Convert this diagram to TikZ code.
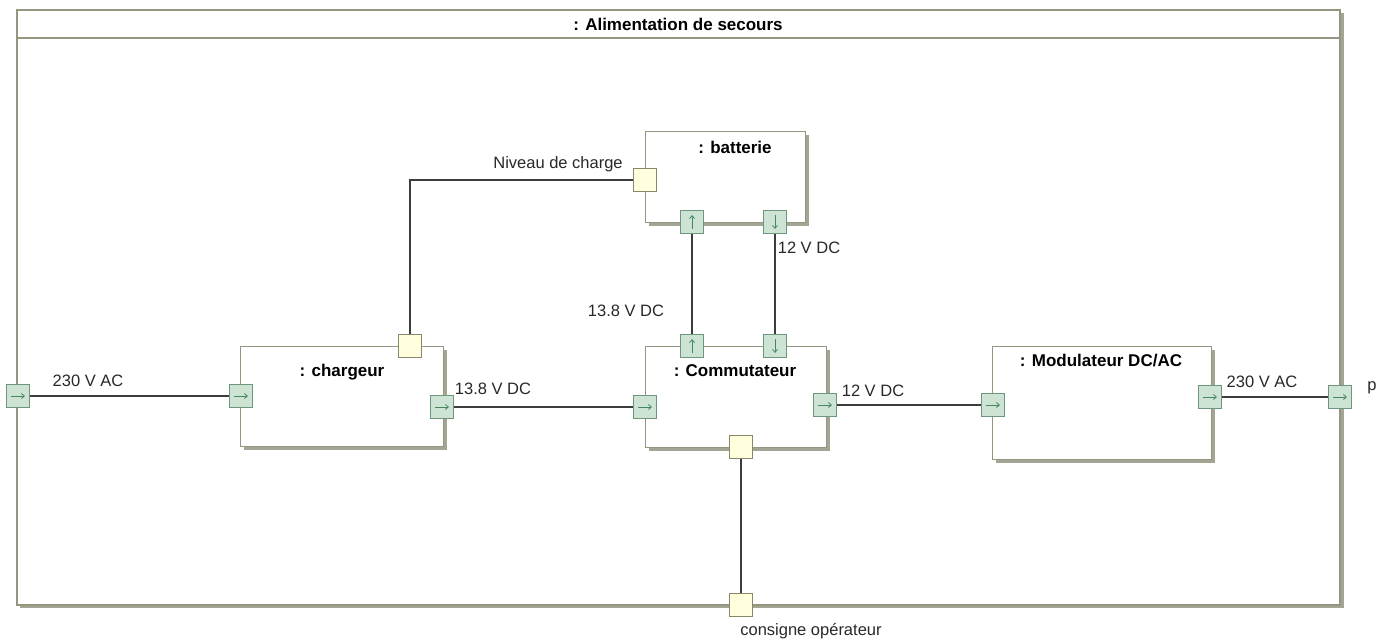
\documentclass[tikz,border=0pt]{standalone}
\usepackage{fontspec}
\setmainfont{Liberation Sans}
\usetikzlibrary{shadows,arrows.meta}
\definecolor{frameC}{RGB}{150,150,128}
\definecolor{shadowC}{RGB}{165,165,150}
\definecolor{portB}{RGB}{110,150,125}
\definecolor{portF}{RGB}{205,228,212}
\definecolor{arrC}{RGB}{70,135,95}
\definecolor{yelF}{RGB}{255,255,222}
\definecolor{yelB}{RGB}{135,135,105}
\definecolor{wireC}{RGB}{60,60,60}
\definecolor{textC}{RGB}{40,40,40}
\begin{document}
\begin{tikzpicture}[x=1pt,y=-1pt,
  box/.style={draw=frameC, fill=white, line width=1.1pt, anchor=north west, inner sep=0,
    drop shadow={shadow xshift=3pt, shadow yshift=-3pt, fill=shadowC, opacity=1}},
  parr/.style={draw=arrC, line width=0.8pt, -{Straight Barb[length=3pt,width=5pt]}},
  portbase/.style={draw=portB, fill=portF, minimum size=23pt, inner sep=0, line width=0.8pt},
  portR/.style={portbase, path picture={\draw[parr] ([xshift=-7pt]path picture bounding box.center) -- ([xshift=7pt]path picture bounding box.center);}},
  portU/.style={portbase, path picture={\draw[parr] ([yshift=-7pt]path picture bounding box.center) -- ([yshift=7pt]path picture bounding box.center);}},
  portDn/.style={portbase, path picture={\draw[parr] ([yshift=7pt]path picture bounding box.center) -- ([yshift=-7pt]path picture bounding box.center);}},
  yport/.style={draw=yelB, fill=yelF, minimum size=23pt, inner sep=0, line width=0.8pt},
  wire/.style={draw=wireC, line width=1.2pt},
  lbl/.style={font=\fontsize{16.5}{19}\selectfont, text=textC, inner sep=0},
  ttl/.style={font=\bfseries\fontsize{17}{20}\selectfont, text=black, inner sep=0}]
\useasboundingbox (0,0) rectangle (1385,643);
% outer frame
\fill[shadowC] (20,13) rectangle (1344,608);
\draw[draw=frameC, fill=white, line width=1.1pt] (17,10) rectangle (1340,605);
\draw[draw=frameC, line width=1.1pt] (17,38) -- (1340,38);
\node[ttl] (title) at (678,24) {: Alimentation de secours};
% boxes
\node[box, minimum width=203pt, minimum height=100pt] (charg) at (240,346) {};
\node[box, minimum width=160pt, minimum height=91pt] (batt) at (645,131) {};
\node[box, minimum width=181pt, minimum height=101pt] (comm) at (645,346) {};
\node[box, minimum width=219pt, minimum height=113pt] (modu) at (992,346) {};
\node[ttl] (tcharg) at (342,372) {: chargeur};
\node[ttl] (tbatt) at (735,147) {: batterie};
\node[ttl] (tcomm) at (735,371) {: Commutateur};
\node[ttl] (tmodu) at (1101,361) {: Modulateur DC/AC};
% ports
\node[portR] (pin) at (18,396) {};
\node[portR] (pout) at (1340,397) {};
\node[yport] (pcons) at (741,605) {};
\node[portR] (chin) at (241,396) {};
\node[portR] (chout) at (442,407) {};
\node[yport] (chniv) at (410,346) {};
\node[yport] (bniv) at (645,180) {};
\node[portU] (bup) at (692,222) {};
\node[portDn] (bdn) at (775,222) {};
\node[portU] (cup) at (692,346) {};
\node[portDn] (cdn) at (775,346) {};
\node[portR] (cin) at (645,407) {};
\node[portR] (cout) at (825,405) {};
\node[yport] (ccons) at (741,447) {};
\node[portR] (min) at (993,405) {};
\node[portR] (mout) at (1210,397) {};
% wires
\draw[wire] (pin.east) -- (chin.west);
\draw[wire] (chout.east) -- (cin.west);
\draw[wire] (cout.east) -- (min.west);
\draw[wire] (mout.east) -- (pout.west);
\draw[wire] (chniv.north) |- (bniv.west);
\draw[wire] (bup.south) -- (cup.north);
\draw[wire] (bdn.south) -- (cdn.north);
\draw[wire] (ccons.south) -- (pcons.north);
% labels
\node[lbl] (l1) at (88,381) {230 V AC};
\node[lbl] (l2) at (493,389) {13.8 V DC};
\node[lbl] (l3) at (873,391) {12 V DC};
\node[lbl] (l4) at (1262,382) {230 V AC};
\node[lbl] (l5) at (1372,388) {p};
\node[lbl] (l6) at (558,164) {Niveau de charge};
\node[lbl] (l7) at (809,248) {12 V DC};
\node[lbl] (l8) at (626,311) {13.8 V DC};
\node[lbl] (l9) at (811,631) {consigne opérateur};
\end{tikzpicture}
\end{document}
